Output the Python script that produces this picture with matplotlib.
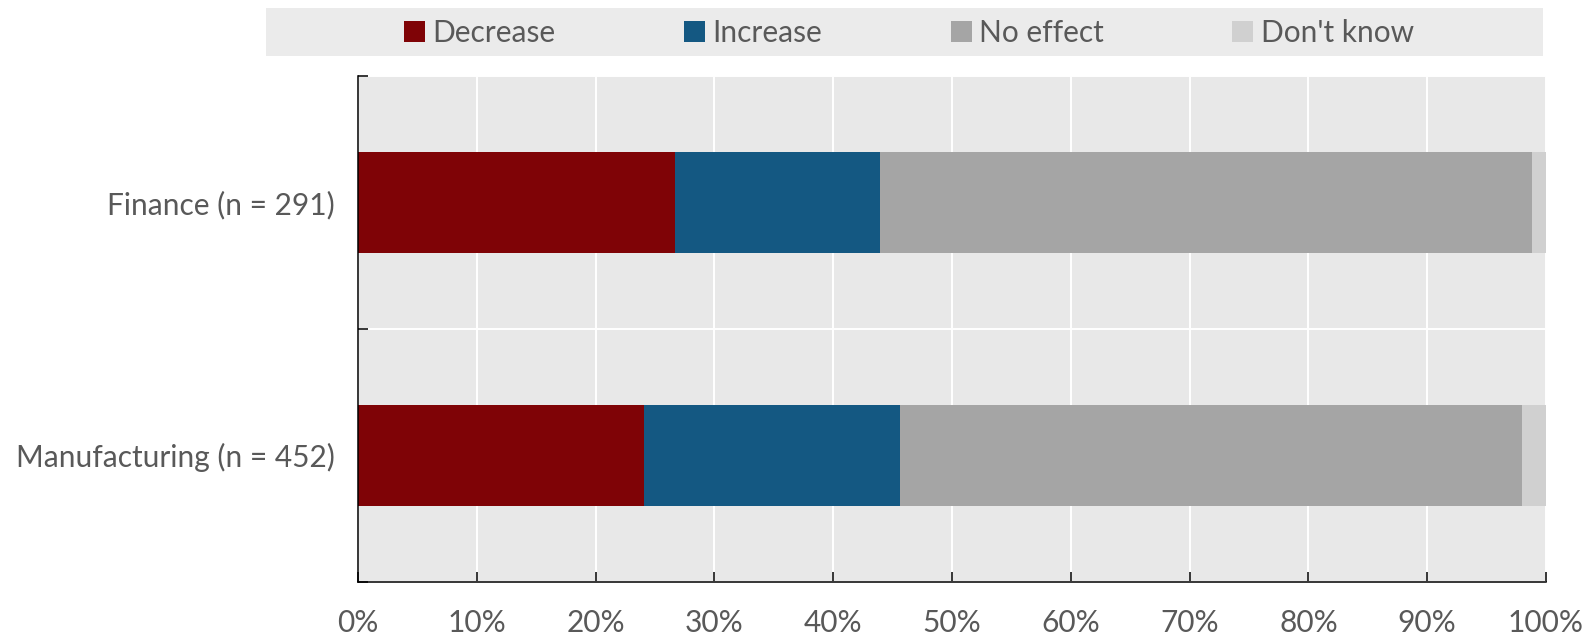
import matplotlib
matplotlib.use("Agg")
import matplotlib.pyplot as plt
from matplotlib.patches import Rectangle
from matplotlib.ticker import PercentFormatter

plt.rcParams['font.family'] = ['Lato', 'DejaVu Sans']

categories = ["Finance (n = 291)", "Manufacturing (n = 452)"]
series_names = ["Decrease", "Increase", "No effect", "Don't know"]
decrease = [26.7, 24.1]
increase = [17.2, 21.5]
no_effect = [54.9, 52.4]
dont_know = [1.2, 2.0]
x_ticks = [0, 10, 20, 30, 40, 50, 60, 70, 80, 90, 100]

colors = ["#7f0306", "#145882", "#a5a5a5", "#d0d0d0"]
text_color = "#595959"
fs = 21.5

fig = plt.figure(figsize=(15.89, 6.37), dpi=100)
fig.patch.set_facecolor("white")
ax = fig.add_axes([358 / 1589, 1 - 581.5 / 637, (1546 - 358) / 1589, (581.5 - 76) / 637])
ax.set_facecolor("#e8e8e8")

ypos = list(range(len(categories)))
left = [0.0] * len(categories)
for name, vals, col in zip(series_names, [decrease, increase, no_effect, dont_know], colors):
    ax.barh(ypos, vals, left=left, height=0.4, color=col, label=name, zorder=3)
    left = [l + v for l, v in zip(left, vals)]

ax.set_xlim(0, 100)
ax.set_ylim(len(categories) - 0.5, -0.5)

ax.set_xticks(x_ticks)
ax.xaxis.set_major_formatter(PercentFormatter(decimals=0))
ax.set_yticks(ypos)
ax.set_yticklabels(categories)
ax.set_yticks([-0.5, 0.5, 1.5], minor=True)

ax.tick_params(axis="y", which="major", length=0, pad=16.5, labelsize=fs, labelcolor=text_color)
ax.tick_params(axis="y", which="minor", length=7, width=1.1, direction="in", color="black")
ax.tick_params(axis="x", which="major", length=7, width=1.1, direction="in", color="black",
               pad=20, labelsize=fs, labelcolor=text_color)

ax.grid(axis="x", which="major", color="white", linewidth=1.4, zorder=1)
ax.grid(axis="y", which="minor", color="white", linewidth=1.4, zorder=1)
ax.set_axisbelow(True)

for side in ["top", "right"]:
    ax.spines[side].set_visible(False)
for side in ["left", "bottom"]:
    ax.spines[side].set_color("black")
    ax.spines[side].set_linewidth(1.1)
    ax.spines[side].set_zorder(4)

# legend strip across the top
fig.patches.append(Rectangle((266 / 1589, 1 - 56 / 637), (1543 - 266) / 1589, 48 / 637,
                             transform=fig.transFigure, facecolor="#ebebeb",
                             edgecolor="none", zorder=0))
handles, labels = ax.get_legend_handles_labels()
fig.legend(handles, labels, loc="center", bbox_to_anchor=(909 / 1589, 1 - 33 / 637),
           ncol=4, frameon=False, fontsize=fs, handlelength=0.7, handleheight=0.7,
           handletextpad=0.25, columnspacing=4.3, labelcolor=text_color, borderpad=0)

fig.savefig("out.png", dpi=100)
